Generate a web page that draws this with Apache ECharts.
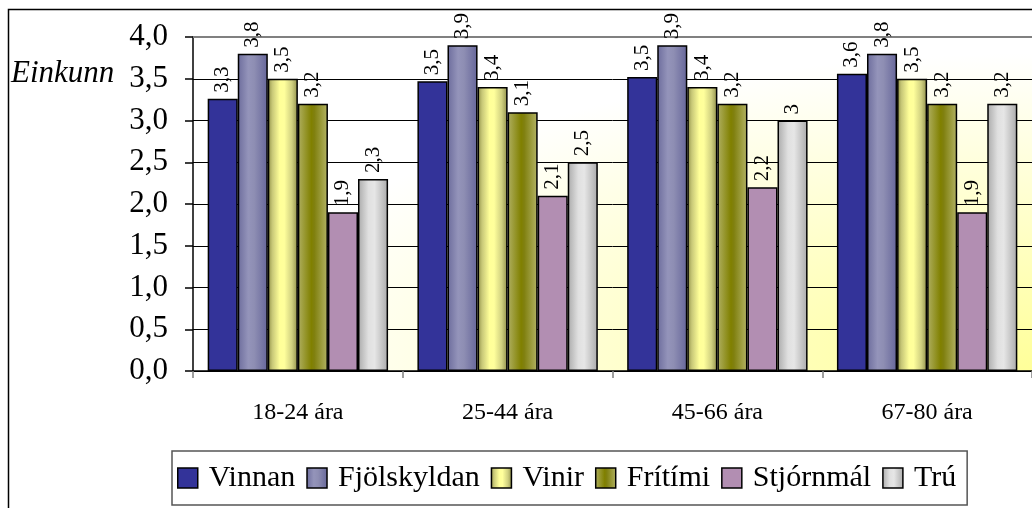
<!DOCTYPE html>
<html>
<head>
<meta charset="utf-8">
<script src="https://cdn.jsdelivr.net/npm/echarts@6/dist/echarts.min.js"></script>
<style>
html,body{margin:0;padding:0;background:#fff;}
#chart{width:1032px;height:508px;}
</style>
</head>
<body>
<div id="chart"></div>
<script>
var categories = ['18-24 ára', '25-44 ára', '45-66 ára', '67-80 ára'];
var seriesNames = ['Vinnan', 'Fjölskyldan', 'Vinir', 'Frítími', 'Stjórnmál', 'Trú'];
var vinnan = [3.26, 3.47, 3.52, 3.56];
var fjolskyldan = [3.8, 3.9, 3.9, 3.8];
var vinir = [3.5, 3.4, 3.4, 3.5];
var fritimi = [3.2, 3.1, 3.2, 3.2];
var stjornmal = [1.9, 2.1, 2.2, 1.9];
var tru = [2.3, 2.5, 3.0, 3.2];
var yTicks = [0, 0.5, 1, 1.5, 2, 2.5, 3, 3.5, 4];
var yAxisTitle = 'Einkunn';

function lg(stops) {
  return {type: 'linear', x: 0, y: 0, x2: 1, y2: 0,
    colorStops: stops.map(function (s) { return {offset: s[0], color: s[1]}; })};
}
var fills = [
  '#333399',
  lg([[0, '#6c6c9c'], [0.35, '#9494ba'], [0.55, '#8e8eb3'], [1, '#66669a']]),
  lg([[0, '#8f8f45'], [0.15, '#c8c878'], [0.4, '#ffff99'], [0.55, '#ffff9c'], [0.8, '#d0d080'], [1, '#8f8f4a']]),
  lg([[0, '#b0b062'], [0.45, '#808000'], [0.55, '#80800f'], [1, '#b4b466']]),
  '#b28eb2',
  lg([[0, '#aaaaaa'], [0.35, '#e0e0e0'], [0.55, '#e6e6e6'], [1, '#aaaaaa']])
];
var dataSets = [vinnan, fjolskyldan, vinir, fritimi, stjornmal, tru];

function fmtLabel(v) { return String(Math.round(v * 10) / 10).replace('.', ','); }

var serif = '"Liberation Serif", "Times New Roman", serif';
var chart = echarts.init(document.getElementById('chart'), null, {renderer: 'canvas'});

var gridLeft = 193, gridTop = 37, gridW = 840, gridH = 334;

var series = seriesNames.map(function (name, i) {
  return {
    name: name,
    type: 'bar',
    data: dataSets[i],
    barGap: '0%',
    barCategoryGap: '14%',
    itemStyle: {color: fills[i], borderColor: '#000', borderWidth: 1.5},
    label: {
      show: true,
      position: 'top',
      distance: 6,
      rotate: 90,
      align: 'left',
      verticalAlign: 'middle',
      fontFamily: serif,
      fontSize: 21,
      color: '#000',
      formatter: function (p) { return fmtLabel(p.value); }
    }
  };
});

chart.setOption({
  animation: false,
  backgroundColor: '#fff',
  textStyle: {fontFamily: serif},
  grid: {left: gridLeft, top: gridTop, width: gridW, height: gridH, show: false},
  xAxis: {
    type: 'category',
    data: categories,
    axisLine: {lineStyle: {color: '#000', width: 1.5}},
    axisTick: {show: true, length: 7, lineStyle: {color: '#808080', width: 1.5}},
    axisLabel: {fontFamily: serif, fontSize: 24, color: '#000', margin: 30}
  },
  yAxis: {
    type: 'value',
    min: yTicks[0],
    max: yTicks[yTicks.length - 1],
    interval: 0.5,
    axisLine: {show: true, lineStyle: {color: '#000', width: 1.5}},
    axisTick: {show: true, length: 8, lineStyle: {color: '#000', width: 1.5}},
    axisLabel: {fontFamily: serif, fontSize: 31, color: '#000', margin: 25,
      formatter: function (v) { return v.toFixed(1).replace('.', ','); }},
    splitLine: {show: true, lineStyle: {color: '#000', width: 1}}
  },
  legend: {
    data: seriesNames,
    left: 172,
    top: 451,
    orient: 'horizontal',
    itemWidth: 20,
    itemHeight: 20,
    itemGap: 11,
    padding: [12, 11, 12, 5],
    borderColor: '#555',
    borderWidth: 1.5,
    icon: 'rect',
    itemStyle: {borderColor: '#000', borderWidth: 1.5},
    textStyle: {fontFamily: serif, fontSize: 30, color: '#000', padding: [0, 0, 0, 6]}
  },
  graphic: [
    {
      type: 'rect',
      z: -10,
      x: gridLeft, y: gridTop,
      scaleX: gridW / gridH,
      shape: {x: 0, y: 0, width: gridH, height: gridH},
      style: {
        fill: {type: 'radial', x: 1, y: 1, r: 1,
          colorStops: [{offset: 0, color: '#ffff99'}, {offset: 0.95, color: '#ffffff'}, {offset: 1, color: '#ffffff'}]},
        stroke: null
      },
      silent: true
    },
    {
      type: 'line', z: 1,
      shape: {x1: gridLeft, y1: gridTop, x2: 1032, y2: gridTop},
      style: {stroke: '#808080', lineWidth: 2}
    },
    {
      type: 'polyline', z: 1,
      shape: {points: [[8.5, 508], [8.5, 9.5], [1032, 9.5]]},
      style: {stroke: '#000', lineWidth: 1.5, fill: null}
    },
    {
      type: 'text', z: 5,
      left: 11, top: 58,
      style: {text: yAxisTitle, font: 'italic 31px "Liberation Serif"', fill: '#000'}
    }
  ],
  series: series
});
</script>
</body>
</html>
